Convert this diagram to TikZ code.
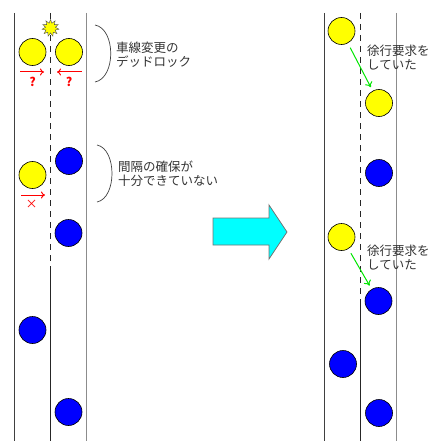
\documentclass[tikz,border=0pt]{standalone}
\usepackage{fontspec}
\setmainfont{Noto Sans CJK JP}
\usetikzlibrary{shapes.geometric,arrows.meta}
\definecolor{cyy}{RGB}{255,255,0}
\definecolor{cbb}{RGB}{0,0,255}
\definecolor{ccy}{RGB}{0,255,255}
\definecolor{crr}{RGB}{255,0,0}
\definecolor{cgg}{RGB}{0,230,0}
\begin{document}
\begin{tikzpicture}[x=1pt,y=-1pt,
  car/.style={circle,draw=black,line width=0.6pt,minimum size=27pt,inner sep=0pt},
  ycar/.style={car,fill=cyy},
  bcar/.style={car,fill=cbb},
  edgeline/.style={line width=0.9pt,draw=black!75},
  rightline/.style={line width=0.9pt,draw=black!45},
  midline/.style={line width=0.9pt,draw=black!85,dash pattern=on 6pt off 5pt},
  solidmid/.style={line width=0.9pt,draw=black!85},
  redarrow/.style={draw=crr,line width=1pt,-{To[length=4pt,width=7pt]}},
  greenarrow/.style={draw=cgg,line width=1pt,-{To[length=5pt,width=8pt]},shorten <=5pt,shorten >=4pt},
  redmark/.style={text=crr,font=\fontsize{12}{12}\selectfont\bfseries,inner sep=0pt},
  label/.style={align=left,anchor=west,inner sep=0pt,text=black!80,font=\fontsize{12.5}{14}\selectfont},
  bracket/.style={draw=black!75,line width=0.7pt}
]
\useasboundingbox (0,0) rectangle (432,441);

% --- left road
\coordinate (L1t) at (14.5,13); \coordinate (L1b) at (14.5,441);
\coordinate (L2t) at (50.5,13); \coordinate (L2m) at (50.5,272); \coordinate (L2b) at (50.5,441);
\coordinate (L3t) at (86,13);   \coordinate (L3b) at (86,441);
\draw[edgeline] (L1t) -- (L1b);
\draw[midline] (L2t) -- (L2m);
\draw[solidmid] (L2m) -- (L2b);
\draw[rightline] (L3t) -- (L3b);

% --- right road
\coordinate (R1t) at (324.5,13); \coordinate (R1b) at (324.5,441);
\coordinate (R2t) at (360.5,13); \coordinate (R2m) at (360.5,300); \coordinate (R2b) at (360.5,441);
\coordinate (R3t) at (396,13);   \coordinate (R3b) at (396,441);
\draw[edgeline] (R1t) -- (R1b);
\draw[midline] (R2t) -- (R2m);
\draw[solidmid] (R2m) -- (R2b);
\draw[rightline] (R3t) -- (R3b);

% --- left scene: deadlock
\node[star,star points=11,star point ratio=1.7,minimum size=17pt,inner sep=0pt,fill=cyy,draw=black!70,line width=0.4pt] (boom) at (50.5,28) {};
\node[ycar] (ya) at (32.5,52) {};
\node[ycar] (yb) at (69,52) {};
\coordinate (ra1) at (20,72); \coordinate (ra2) at (44,72);
\coordinate (rb1) at (82,72); \coordinate (rb2) at (57,72);
\draw[redarrow] (ra1) -- (ra2);
\draw[redarrow] (rb1) -- (rb2);
\node[redmark] (qa) at (32.5,82) {?};
\node[redmark] (qb) at (69,82) {?};

\coordinate (bA1) at (95,25); \coordinate (bA2) at (95,82);
\draw[bracket] (bA1) .. controls (116,29) and (116,78) .. (bA2);
\node[label] (t1) at (116,55) {車線変更の\\デッドロック};

% --- left scene: gap
\node[bcar] (bc1) at (69,161) {};
\node[ycar] (yc) at (32.5,175) {};
\coordinate (rc1) at (21,195); \coordinate (rc2) at (45,195);
\draw[redarrow] (rc1) -- (rc2);
\node[text=crr,inner sep=0pt,font=\fontsize{12}{12}\selectfont] (xm) at (31.5,204) {×};
\coordinate (bB1) at (97,145); \coordinate (bB2) at (97,202);
\draw[bracket] (bB1) .. controls (117,149) and (117,198) .. (bB2);
\node[label] (t2) at (118,174) {間隔の確保が\\十分できていない};

\node[bcar] (bc2) at (68.5,233) {};
\node[bcar] (bc3) at (32.5,330) {};
\node[bcar] (bc4) at (68.5,412) {};

% --- big arrow
\draw[fill=ccy,draw=black!55,line width=0.8pt]
  (213,218) -- (269,218) -- (269,205) -- (287,232) -- (269,259) -- (269,245) -- (213,245) -- cycle;

% --- right scene
\node[ycar] (yr1) at (341.5,31) {};
\node[ycar] (yr2) at (379,103) {};
\draw[greenarrow] (yr1) -- (yr2);
\node[label] (t3) at (367,58) {徐行要求を\\していた};

\node[bcar] (br1) at (379,173) {};
\node[ycar] (yr3) at (341.5,237) {};
\node[bcar] (br2) at (378.5,301) {};
\draw[greenarrow] (yr3) -- (br2);
\node[label] (t4) at (367,258) {徐行要求を\\していた};

\node[bcar] (br3) at (343,364) {};
\node[bcar] (br4) at (379,413) {};
\end{tikzpicture}
\end{document}
